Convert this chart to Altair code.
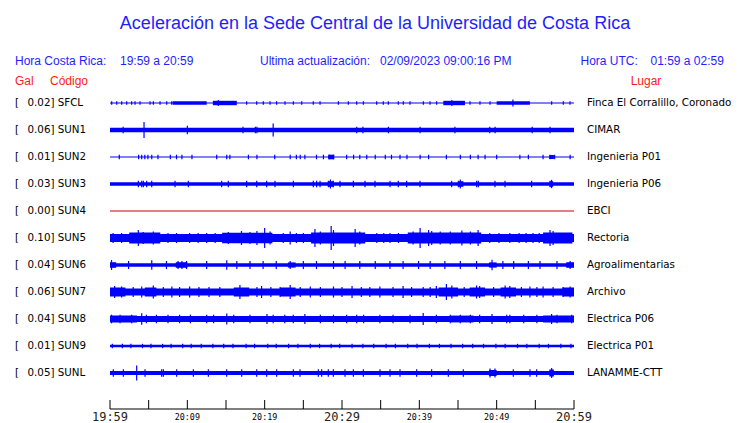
import altair as alt
import pandas as pd

# ---------------- data ----------------
codes = ["SFCL", "SUN1", "SUN2", "SUN3", "SUN4", "SUN5", "SUN6", "SUN7", "SUN8", "SUN9", "SUNL"]
gal = ["0.02", "0.06", "0.01", "0.03", "0.00", "0.10", "0.04", "0.06", "0.04", "0.01", "0.05"]
places = ["Finca El Corralillo, Coronado", "CIMAR", "Ingenieria P01", "Ingenieria P06", "EBCI",
          "Rectoria", "Agroalimentarias", "Archivo", "Electrica P06", "Electrica P01", "LANAMME-CTT"]

# background half-amplitude of each trace (screen px)
base_amp = [0.6, 2.2, 0.6, 1.8, 0.0, 4.0, 1.8, 3.5, 3.0, 1.3, 2.0]

# bursts: (start minute, end minute, half-amplitude)
bursts = {
    "SFCL": [(8.1, 12.5, 1.8), (13.3, 16.4, 2.2), (43.1, 45.9, 2.2), (50.0, 54.3, 1.8)],
    "SUN2": [(28.2, 29.0, 2.3), (56.8, 57.4, 2.0)],
    "SUN3": [(28.2, 28.9, 2.8), (45.0, 45.7, 2.8), (56.9, 57.3, 2.8)],
    "SUN5": [(2.5, 6.5, 5.5), (14.5, 21.0, 5.3), (26.0, 33.0, 5.5), (38.5, 48.0, 5.5), (56.0, 59.8, 5.5)],
    "SUN6": [(0.0, 0.8, 2.8), (8.5, 10.0, 2.8), (23.0, 24.0, 2.6), (49.0, 50.0, 2.6), (59.0, 60.0, 2.8)],
    "SUN7": [(0.0, 2.0, 4.5), (4.5, 6.0, 4.5), (16.0, 18.0, 4.5), (22.0, 24.0, 4.5), (42.5, 45.0, 4.5),
             (46.5, 48.5, 4.5), (50.5, 52.5, 4.5), (58.5, 60.0, 4.5)],
    "SUN8": [(0.0, 3.5, 3.5), (44.0, 47.0, 3.4), (56.0, 60.0, 3.5)],
    "SUNL": [(56.8, 57.4, 3.5), (49.0, 50.0, 3.0)],
}

# small spikes: minutes, with one half-amplitude per trace
spike_times = {
    "SFCL": [0.22, 0.87, 1.51, 2.16, 2.80, 3.24, 3.88, 5.18, 5.61, 6.47, 7.33, 7.98, 17.67, 18.97, 19.83,
             20.69, 21.55, 22.63, 23.71, 24.79, 26.29, 27.16, 29.53, 30.82, 31.90, 32.76, 34.48, 35.34,
             35.99, 37.28, 37.93, 38.79, 40.52, 41.38, 42.24, 46.55, 47.84, 49.14, 57.11, 58.62, 59.48],
    "SUN1": [1.7, 17.2, 18.8, 19.0, 31.9, 32.7, 36.0, 40.1, 44.6, 49.1, 49.8, 54.6, 56.9],
    "SUN2": [1.2, 3.7, 4.1, 4.5, 4.9, 5.4, 6.2, 7.8, 8.6, 9.3, 10.6, 13.8, 15.1, 15.5, 17.9, 19.0, 21.3,
             23.3, 24.1, 24.6, 25.2, 26.7, 27.6, 28.4, 28.9, 30.6, 31.5, 32.3, 33.2, 34.3, 35.6, 36.4,
             37.5, 38.4, 40.1, 41.2, 43.5, 45.3, 46.6, 47.6, 48.5, 50.0, 53.0, 54.1, 56.0, 56.9, 57.5, 59.5],
    "SUN3": [3.67, 4.10, 4.31, 4.74, 5.39, 8.41, 10.13, 14.44, 15.30, 17.67, 18.97, 20.26, 21.34, 23.71,
             26.29, 26.72, 27.16, 28.23, 28.88, 29.74, 31.47, 32.97, 34.27, 36.21, 37.28, 38.36, 40.09,
             44.18, 45.04, 47.41, 47.63, 49.78, 51.08, 54.52, 56.89],
    "SUN5": [0.4, 1.5, 2.6, 7.5, 8.6, 10.3, 11.4, 12.5, 13.6, 22.4, 24.1, 25.0, 34.5, 35.4, 36.2, 37.3,
             49.1, 50.3, 51.7, 52.9, 53.8, 54.7, 55.5, 59.5],
    "SUN6": [2.4, 7.3, 8.8, 9.3, 9.9, 12.5, 16.4, 18.1, 19.8, 21.5, 23.3, 25.0, 26.7, 28.9, 30.4, 32.3,
             34.3, 36.2, 37.9, 39.9, 41.4, 43.3, 45.3, 47.4, 50.8, 52.2, 54.1, 55.6, 57.8, 59.5],
    "SUN7": [3.0, 6.9, 9.0, 11.5, 12.8, 14.2, 19.0, 20.8, 22.0, 24.6, 27.2, 30.0, 32.5, 33.6, 36.6, 39.0,
             40.5, 41.4, 45.8, 49.6, 53.2, 55.2, 57.3, 58.6],
    "SUN8": [0.2, 1.3, 2.8, 4.7, 6.0, 7.5, 9.0, 10.4, 12.5, 13.4, 16.0, 18.1, 21.1, 22.6, 23.7, 27.2, 28.9,
             30.6, 31.9, 32.8, 34.9, 36.6, 38.8, 42.2, 44.0, 45.3, 46.6, 47.8, 51.3, 51.7, 53.5, 55.2,
             57.8, 59.7],
    "SUN9": [0.3, 1.6, 2.7, 4.2, 5.3, 6.8, 7.9, 9.4, 10.5, 11.8, 13.3, 14.7, 15.9, 17.6, 18.7, 20.4, 21.5,
             23.1, 24.3, 25.9, 27.1, 28.6, 29.7, 31.3, 32.7, 34.1, 35.7, 36.9, 38.5, 39.7, 41.3, 42.6,
             44.1, 45.6, 46.9, 48.3, 49.9, 51.1, 52.7, 53.9, 55.5, 56.7, 58.3, 59.6],
    "SUNL": [0.43, 1.73, 4.53, 6.68, 6.90, 8.62, 10.78, 12.72, 15.09, 17.03, 18.97, 20.26, 21.55, 23.71,
             24.57, 26.94, 27.37, 28.23, 28.88, 30.39, 31.47, 32.76, 34.91, 36.21, 37.50, 39.65, 41.59,
             43.75, 45.69, 52.15, 54.31, 55.17],
}
spike_amp = {"SFCL": 1.8, "SUN1": 3.2, "SUN2": 2.3, "SUN3": 3.3, "SUN5": 5.0, "SUN6": 4.0,
             "SUN7": 5.0, "SUN8": 4.3, "SUN9": 2.2, "SUNL": 3.8}

# larger individual peaks: (minute, half-amplitude)
peaks = {
    "SFCL": [(52.1, 3.5), (44.2, 3.0), (14.0, 3.0)],
    "SUN1": [(4.4, 8.0), (21.1, 6.5), (10.0, 4.2)],
    "SUN3": [(28.5, 4.5), (45.3, 4.5), (57.1, 4.2)],
    "SUN5": [(3.66, 8), (5.6, 6.5), (4.3, 6), (15.3, 6), (17.0, 7), (18.1, 6), (19.0, 7), (20.0, 10),
             (20.7, 6.5), (23.3, 6.5), (26.5, 9), (27.2, 6.5), (28.6, 12), (28.9, 8), (31.7, 9), (32.3, 6.5),
             (39.2, 6.5), (40.1, 10), (41.2, 8), (41.6, 7), (42.7, 6.5), (44.0, 6.5), (45.5, 7.5),
             (46.6, 6.5), (47.6, 8), (56.9, 8), (57.3, 7)],
    "SUN6": [(0.2, 5.0), (5.4, 4.8), (15.1, 4.8), (49.4, 5.2)],
    "SUN7": [(0.6, 6), (1.5, 5.5), (4.1, 5.5), (5.6, 6.5), (8.0, 5.5), (10.3, 5.5), (16.8, 7), (19.6, 6),
             (23.3, 7), (25.9, 5.5), (28.9, 5.5), (31.3, 6), (34.9, 5.5), (37.9, 6), (42.2, 6), (43.5, 8),
             (44.2, 6.5), (47.4, 6.5), (47.8, 6), (51.1, 6.5), (51.7, 6), (54.3, 5.5), (56.0, 5.5), (59.5, 5.5)],
    "SUN8": [(4.1, 5.8), (15.1, 5.5), (20.3, 5.0), (25.2, 5.0), (40.5, 6.0), (49.4, 5.0), (57.1, 5.0)],
    "SUNL": [(3.45, 7.5), (49.14, 4.5), (49.78, 4.5), (57.11, 5.0)],
}

flat_traces = ["SUN4"]

tick_minutes = [0, 5, 10, 15, 20, 25, 30, 35, 40, 45, 50, 55, 60]
major_ticks = [0, 30, 60]
major_labels = ["19:59", "20:29", "20:59"]
minor_ticks = [10, 20, 40, 50]
minor_labels = ["20:09", "20:19", "20:39", "20:49"]

title_text = "Aceleración en la Sede Central de la Universidad de Costa Rica"

# ---------------- tables ----------------
PX = 27.0  # screen px per trace slot (amplitudes above are in px)

band_rows, spike_rows = [], []
for i, c in enumerate(codes):
    if base_amp[i] > 0:
        band_rows.append({"t0": 0, "t1": 60, "lo": i - base_amp[i] / PX, "hi": i + base_amp[i] / PX})
    for t0, t1, a in bursts.get(c, []):
        band_rows.append({"t0": t0, "t1": t1, "lo": i - a / PX, "hi": i + a / PX})
    for t in spike_times.get(c, []):
        a = spike_amp[c]
        spike_rows.append({"t": t, "lo": i - a / PX, "hi": i + a / PX})
    for t, a in peaks.get(c, []):
        spike_rows.append({"t": t, "lo": i - a / PX, "hi": i + a / PX})

bands = pd.DataFrame(band_rows)
spikes = pd.DataFrame(spike_rows)
flat = pd.DataFrame({"t0": [0] * len(flat_traces), "t1": [60] * len(flat_traces),
                     "idx": [codes.index(c) for c in flat_traces]})
stations = pd.DataFrame({"idx": list(range(len(codes))),
                         "left": [f"{g}] {c}" for g, c in zip(gal, codes)],
                         "place": places})

xs = alt.Scale(domain=[0, 60], nice=False, zero=False)
ys = alt.Scale(domain=[-0.4815, 11.3333], reverse=True, nice=False, zero=False)

BLUE = "#0000ff"
HEAD = "#1e1eff"
RED = "#ff1a1a"

band_layer = alt.Chart(bands).mark_rect(color=BLUE).encode(
    x=alt.X("t0:Q", scale=xs, axis=None), x2="t1",
    y=alt.Y("lo:Q", scale=ys, axis=None), y2="hi")

spike_layer = alt.Chart(spikes).mark_rule(color=BLUE, strokeWidth=1.2).encode(
    x=alt.X("t:Q", scale=xs, axis=None),
    y=alt.Y("lo:Q", scale=ys, axis=None), y2="hi")

flat_layer = alt.Chart(flat).mark_rule(color="#cc0000", strokeWidth=1).encode(
    x=alt.X("t0:Q", scale=xs, axis=None), x2="t1",
    y=alt.Y("idx:Q", scale=ys, axis=None))

left_br = alt.Chart(stations).mark_text(align="left", baseline="middle", font="DejaVu Sans",
                                        fontSize=10.3, color="black").encode(
    x=alt.value(-95), y=alt.Y("idx:Q", scale=ys, axis=None), text=alt.value("["))
left_lab = alt.Chart(stations).mark_text(align="left", baseline="middle", font="DejaVu Sans",
                                         fontSize=10.3, color="black").encode(
    x=alt.value(-82.5), y=alt.Y("idx:Q", scale=ys, axis=None), text="left:N")
right_lab = alt.Chart(stations).mark_text(align="left", baseline="middle", font="DejaVu Sans",
                                          fontSize=10.3, color="black").encode(
    x=alt.value(477), y=alt.Y("idx:Q", scale=ys, axis=None), text="place:N")

# time axis
axis_df = pd.DataFrame({"t0": [0], "t1": [60]})
baseline = alt.Chart(axis_df).mark_rule(color="black", strokeWidth=1).encode(
    x=alt.X("t0:Q", scale=xs, axis=None), x2="t1", y=alt.value(319))
ticks = alt.Chart(pd.DataFrame({"t": tick_minutes})).mark_rule(color="black", strokeWidth=1).encode(
    x=alt.X("t:Q", scale=xs, axis=None), y=alt.value(310), y2=alt.value(319))
major = alt.Chart(pd.DataFrame({"t": major_ticks, "lab": major_labels})).mark_text(
    font="DejaVu Sans Mono", fontSize=12, fontWeight="normal", baseline="middle", align="center",
    color="#222222").encode(
    x=alt.X("t:Q", scale=xs, axis=None), y=alt.value(326.5), text="lab:N")
minor = alt.Chart(pd.DataFrame({"t": minor_ticks, "lab": minor_labels})).mark_text(
    font="DejaVu Sans Mono", fontSize=8.4, baseline="middle", align="center", color="black").encode(
    x=alt.X("t:Q", scale=xs, axis=None), y=alt.value(326.5), text="lab:N")


def label(text, x, y, color, size, align="left", font="Liberation Sans"):
    return alt.Chart(pd.DataFrame({"s": [text]})).mark_text(
        align=align, baseline="middle", font=font, fontSize=size, color=color).encode(
        x=alt.value(x), y=alt.value(y), text="s:N")


title = label(title_text, 265, -66.5, HEAD, 18, align="center")
h1 = label("Hora Costa Rica:", -95, -29, HEAD, 12)
h2 = label("19:59 a 20:59", 10, -29, HEAD, 12)
h3 = label("Ultima actualización:", 150, -29, HEAD, 12)
h4 = label("02/09/2023 09:00:16 PM", 270, -29, HEAD, 12)
h5 = label("Hora UTC:", 470.5, -29, HEAD, 12)
h6 = label("01:59 a 02:59", 540.5, -29, HEAD, 12)
g1 = label("Gal", -95, -9.5, RED, 12)
g2 = label("Código", -60, -9.5, RED, 12)
g3 = label("Lugar", 536, -9.5, RED, 12, align="center")

chart = alt.layer(
    band_layer, spike_layer, flat_layer, left_br, left_lab, right_lab,
    baseline, ticks, major, minor,
    title, h1, h2, h3, h4, h5, h6, g1, g2, g3,
).properties(
    width=464, height=319,
    padding={"left": 102, "top": 82, "right": 158, "bottom": 14},
    autosize="none", background="white",
).configure_view(stroke=None)

chart.save("out.html", embed_options={"renderer": "svg", "actions": False})
